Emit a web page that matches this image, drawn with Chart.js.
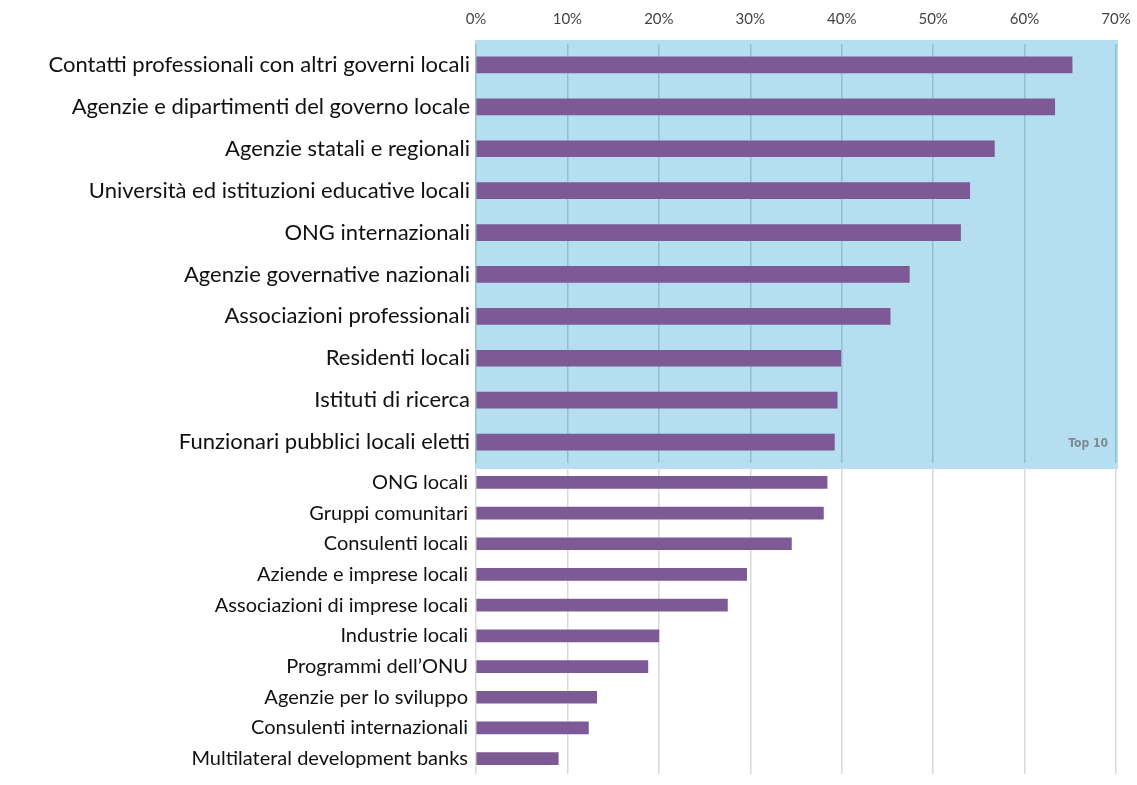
<!DOCTYPE html>
<html lang="it">
<head>
<meta charset="UTF-8">
<title>Top 10</title>
<script src="https://cdn.jsdelivr.net/npm/chart.js"></script>
<style>
  body { margin: 0; background: #fff; }
  #wrap { position: relative; width: 1137px; height: 785px; }
  .box { position: absolute; left: 0; width: 1137px; }
  #boxTop { top: 0; height: 472px; }
  #boxRest { top: 462px; height: 323px; }
</style>
</head>
<body>
<div id="wrap">
  <div class="box" id="boxTop"><canvas id="top"></canvas></div>
  <div class="box" id="boxRest"><canvas id="rest"></canvas></div>
</div>
<script>
// top 10 partners
const topLabels = [
  'Contatti professionali con altri governi locali',
  'Agenzie e dipartimenti del governo locale',
  'Agenzie statali e regionali',
  'Università ed istituzioni educative locali',
  'ONG internazionali',
  'Agenzie governative nazionali',
  'Associazioni professionali',
  'Residenti locali',
  'Istituti di ricerca',
  'Funzionari pubblici locali eletti'
];
const topValues = [65.2, 63.3, 56.7, 54.0, 53.0, 47.4, 45.3, 39.9, 39.5, 39.2];

// the rest
const restLabels = [
  'ONG locali',
  'Gruppi comunitari',
  'Consulenti locali',
  'Aziende e imprese locali',
  'Associazioni di imprese locali',
  'Industrie locali',
  "Programmi dell\u2019ONU",
  'Agenzie per lo sviluppo',
  'Consulenti internazionali',
  'Multilateral development banks'
];
const restValues = [38.4, 38.0, 34.5, 29.6, 27.5, 20.0, 18.8, 13.2, 12.3, 9.0];

const pctTicks = [0, 10, 20, 30, 40, 50, 60, 70];
const boxLabel = 'Top 10';

const FONT = 'Lato';
const PURPLE = '#7d5a96';
const AXIS_LEFT = 476;

// y axis: fixed width, no extra padding for the label heights
const fitY = s => {
  s.width = AXIS_LEFT;
  s.paddingTop = 0;
  s.paddingBottom = 0;
};

// blue background behind the top 10 + the "Top 10" tag
const topBox = {
  id: 'topBox',
  beforeDraw(chart) {
    const a = chart.chartArea, ctx = chart.ctx;
    ctx.save();
    ctx.fillStyle = '#b5dff0';
    ctx.fillRect(a.left - 1, a.top - 4, a.right - a.left + 3, a.bottom - a.top + 10);
    ctx.restore();
  },
  afterDraw(chart) {
    const a = chart.chartArea, ctx = chart.ctx;
    ctx.save();
    ctx.fillStyle = '#7b8a93';
    ctx.font = "bold 12px 'Liberation Sans Narrow', 'DejaVu Sans Condensed', sans-serif";
    ctx.textAlign = 'right';
    ctx.textBaseline = 'middle';
    ctx.fillText(boxLabel, a.right - 8, a.bottom - 19);
    ctx.restore();
  }
};

new Chart(document.getElementById('top'), {
  type: 'bar',
  data: {
    labels: topLabels,
    datasets: [{ data: topValues, backgroundColor: PURPLE, barThickness: 16 }]
  },
  options: {
    indexAxis: 'y',
    responsive: true,
    maintainAspectRatio: false,
    animation: false,
    layout: { padding: { top: 0, right: 21, bottom: 9, left: 0 } },
    plugins: { legend: { display: false }, tooltip: { enabled: false } },
    scales: {
      x: {
        position: 'top',
        min: 0, max: 70,
        afterBuildTicks: s => { s.ticks = pctTicks.map(v => ({ value: v })); },
        afterFit: s => { s.height = 44; s.paddingRight = 0; s.paddingLeft = 0; },
        ticks: {
          callback: v => v + '%',
          color: '#444',
          padding: 16,
          maxRotation: 0,
          font: { family: FONT, size: 15 }
        },
        grid: { color: 'rgba(90,130,150,0.35)', lineWidth: 1.5, drawTicks: false },
        border: { display: false }
      },
      y: {
        afterFit: fitY,
        ticks: { color: '#111', padding: 6, font: { family: FONT, size: 22 } },
        grid: { display: false, drawTicks: false },
        border: { display: false }
      }
    }
  },
  plugins: [topBox]
});

new Chart(document.getElementById('rest'), {
  type: 'bar',
  data: {
    labels: restLabels,
    datasets: [{ data: restValues, backgroundColor: PURPLE, barThickness: 12 }]
  },
  options: {
    indexAxis: 'y',
    responsive: true,
    maintainAspectRatio: false,
    animation: false,
    layout: { padding: { top: 5, right: 21, bottom: 11, left: 0 } },
    plugins: { legend: { display: false }, tooltip: { enabled: false } },
    scales: {
      x: {
        position: 'top',
        min: 0, max: 70,
        afterBuildTicks: s => { s.ticks = pctTicks.map(v => ({ value: v })); },
        afterFit: s => { s.height = 0; s.paddingRight = 0; s.paddingLeft = 0; },
        ticks: { display: false },
        grid: { color: '#d9d9d9', lineWidth: 1.5, drawTicks: false },
        border: { display: false }
      },
      y: {
        afterFit: fitY,
        ticks: { color: '#111', padding: 8, font: { family: FONT, size: 20 } },
        grid: { display: false, drawTicks: false },
        border: { display: false }
      }
    }
  }
});
</script>
</body>
</html>
